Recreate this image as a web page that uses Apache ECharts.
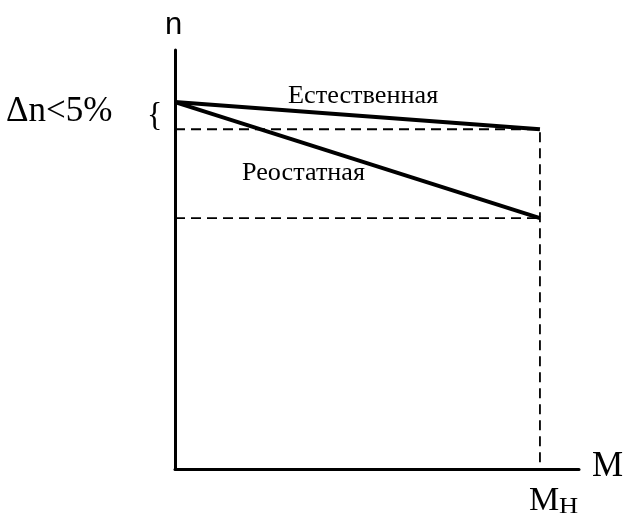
<!DOCTYPE html>
<html lang="ru">
<head>
  <meta charset="utf-8">
  <script src="https://cdn.jsdelivr.net/npm/echarts@6.0.0/dist/echarts.min.js"></script>
  <style>
    body { margin: 0; background: #fff; }
  </style>
</head>
<body>
  <div id="chart" style="width: 627px;height:517px;"></div>

  <script type="text/javascript">
    // torque M (M_H = 1) and speed n (idle speed = 1)
    var torque = [0, 1];
    var naturalSpeed = [1, 0.926];
    var rheostatSpeed = [1, 0.684];
    var xMax = 1.107;
    var yMax = 1.142;

    function pairs(xs, ys) {
        return xs.map(function (x, i) { return [x, ys[i]]; });
    }

    var chart = echarts.init(document.getElementById('chart'));

    var serif = '"Liberation Serif", "Times New Roman", serif';
    var solid = { color: '#000', width: 4 };
    var dashed = { color: '#000', width: 1.8, type: [10, 6] };

    function label(x, y, text, size, sx, family, sy) {
        return {
            type: 'text', x: x, y: y, scaleX: sx || 1, scaleY: sy || 1,
            style: { text: text, font: size + 'px ' + (family || serif), fill: '#000', verticalAlign: 'top' }
        };
    }

    var option = {
        animation: false,
        grid: { left: 175, right: 48, top: 50, bottom: 48 },
        xAxis: {
            type: 'value', min: 0, max: xMax,
            axisLine: { lineStyle: { color: '#000', width: 3 } },
            axisTick: { show: false },
            splitLine: { show: false },
            axisLabel: { show: false }
        },
        yAxis: {
            type: 'value', min: 0, max: yMax,
            axisLine: { show: true, lineStyle: { color: '#000', width: 3 } },
            axisTick: { show: false },
            splitLine: { show: false },
            axisLabel: { show: false }
        },
        series: [
            {
                name: 'Естественная', type: 'line', symbol: 'none',
                data: pairs(torque, naturalSpeed), lineStyle: solid
            },
            {
                name: 'Реостатная', type: 'line', symbol: 'none',
                data: pairs(torque, rheostatSpeed), lineStyle: solid
            },
            {
                type: 'line', symbol: 'none', z: 1,
                data: [[torque[0], naturalSpeed[1]], [torque[1], naturalSpeed[1]], [torque[1], 0]],
                lineStyle: dashed
            },
            {
                type: 'line', symbol: 'none', z: 1,
                data: [[torque[0], rheostatSpeed[1]], [torque[1], rheostatSpeed[1]]],
                lineStyle: dashed
            }
        ],
        graphic: [
            label(165, 10, 'n', 31, 1, '"Liberation Sans", Arial, sans-serif'),
            label(592, 449, 'M', 35),
            label(529, 484, 'M', 34),
            label(559, 495, 'H', 23, 1.15),
            label(6, 94, 'Δn<5%', 35),
            label(147, 99, '{', 32, 1, null, 1.08),
            label(288, 84, 'Естественная', 25, 1.05),
            label(242, 161, 'Реостатная', 25, 1.047)
        ]
    };

    chart.setOption(option);
  </script>
</body>
</html>
